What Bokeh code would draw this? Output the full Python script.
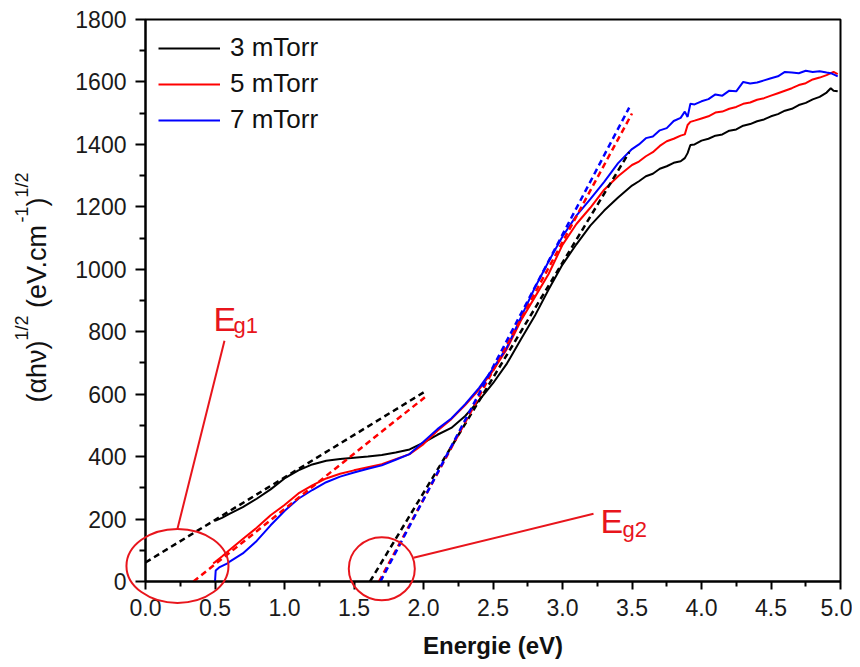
import math
from bokeh.plotting import figure
from bokeh.models import (Range1d, FixedTicker, NumeralTickFormatter, Legend,
                          LegendItem)
from bokeh.core.properties import value
from bokeh.embed import file_html
from bokeh.resources import INLINE

FONT = "Liberation Sans"
RED_NOTE = "#e8151c"

# ---------------- data ----------------
energy_head_3 = [0.50, 0.55]
alpha_head_3 = [194, 204]
energy_head_5 = [0.487, 0.50, 0.55]
alpha_head_5 = [58, 62, 80]
energy_head_7 = [0.50, 0.505, 0.53, 0.59]
alpha_head_7 = [0, 35, 45, 58]

energy_common = [0.6, 0.7, 0.8, 0.9, 1.0, 1.1, 1.2, 1.3, 1.4, 1.5, 1.6, 1.7, 1.8, 1.9,
                 2.0, 2.1, 2.2, 2.3, 2.4, 2.5, 2.6, 2.7, 2.8, 2.9, 3.0, 3.1, 3.2, 3.3,
                 3.4, 3.5, 3.55, 3.60, 3.65, 3.70, 3.75, 3.80, 3.85, 3.88, 3.90, 3.92,
                 3.95, 4.00, 4.05, 4.10, 4.15, 4.20, 4.25, 4.30, 4.35, 4.40, 4.45, 4.50,
                 4.55, 4.60, 4.65, 4.70, 4.75, 4.80, 4.85, 4.90, 4.93, 4.95, 4.98]

alpha_3mTorr = [216, 238, 265, 295, 330, 356, 375, 387, 392, 396, 400, 405, 413, 423,
                445, 470, 492, 530, 580, 635, 698, 775, 850, 935, 1015, 1080, 1140, 1188,
                1230, 1268, 1282, 1298, 1306, 1322, 1330, 1341, 1346, 1356, 1372, 1398,
                1400, 1412, 1418, 1428, 1432, 1444, 1448, 1460, 1465, 1474, 1480, 1490,
                1497, 1508, 1514, 1526, 1533, 1544, 1552, 1566, 1580, 1572, 1570]

alpha_5mTorr = [99, 136, 172, 212, 245, 282, 308, 330, 345, 356, 366, 376, 392, 408,
                440, 483, 520, 565, 615, 675, 745, 835, 910, 985, 1078, 1145, 1197, 1255,
                1298, 1334, 1345, 1362, 1375, 1395, 1410, 1418, 1428, 1432, 1462, 1472,
                1476, 1483, 1490, 1502, 1505, 1514, 1520, 1530, 1534, 1543, 1548, 1556,
                1564, 1572, 1580, 1590, 1596, 1608, 1614, 1622, 1628, 1632, 1625]

alpha_7mTorr = [62, 90, 130, 180, 226, 265, 293, 318, 336, 349, 361, 372, 390, 408,
                448, 488, 522, 568, 620, 682, 750, 845, 940, 1025, 1105, 1172, 1225, 1280,
                1340, 1385, 1400, 1420, 1425, 1445, 1452, 1475, 1485, 1505, 1488, 1530,
                1528, 1538, 1545, 1560, 1556, 1572, 1570, 1600, 1595, 1598, 1605, 1612,
                1618, 1632, 1630, 1628, 1636, 1632, 1634, 1630, 1628, 1624, 1618]

series_labels = ["3 mTorr", "5 mTorr", "7 mTorr"]
series_colors = ["#000000", "#ff0000", "#0000ff"]

# linear fits (tangent lines), endpoints
fit_low_3_x = [0.0, 2.01]
fit_low_3_y = [61, 608]
fit_low_5_x = [0.345, 2.01]
fit_low_5_y = [0, 590]
fit_high_3_x = [1.615, 3.48]
fit_high_3_y = [0, 1375]
fit_high_5_x = [1.68, 3.50]
fit_high_5_y = [0, 1499]
fit_high_7_x = [1.69, 3.48]
fit_high_7_y = [0, 1518]

x_ticks = [0.0, 0.5, 1.0, 1.5, 2.0, 2.5, 3.0, 3.5, 4.0, 4.5, 5.0]
x_minor = [0.25, 0.75, 1.25, 1.75, 2.25, 2.75, 3.25, 3.75, 4.25, 4.75]
y_ticks = [0, 200, 400, 600, 800, 1000, 1200, 1400, 1600, 1800]
y_minor = [100, 300, 500, 700, 900, 1100, 1300, 1500, 1700]

# annotation shapes (data units)
eg1_ellipse = dict(x=0.23, y=50, w=0.734, h=237)
eg2_ellipse = dict(x=1.70, y=41, w=0.475, h=202)
eg1_pointer_x = [0.568, 0.23]
eg1_pointer_y = [771, 169]
eg2_pointer_x = [1.928, 3.223]
eg2_pointer_y = [76, 217]

# y-axis title pieces: text, start along axis (data y), baseline (data x), size
ytitle_text = ["(\u03b1h\u03bd)", "1/2", "(eV.cm", "-1", ")", "1/2"]
ytitle_y = [573, 772, 876, 1150, 1201, 1230]
ytitle_x = [-0.777, -0.892, -0.777, -0.892, -0.777, -0.892]
ytitle_size = ["27px", "18px", "27px", "18px", "27px", "18px"]

# ---------------- figure ----------------
p = figure(width=852, height=665, output_backend="svg", toolbar_location=None,
           x_range=Range1d(0, 5), y_range=Range1d(0, 1800),
           min_border_left=145, min_border_right=12, min_border_top=19,
           min_border_bottom=84)
p.grid.visible = False
p.outline_line_color = "#000000"
p.outline_line_width = 2
p.background_fill_color = "white"
p.border_fill_color = "white"

for ax in (p.xaxis[0], p.yaxis[0]):
    ax.axis_line_width = 2
    ax.major_tick_line_width = 2
    ax.minor_tick_line_width = 2
    ax.major_tick_in = 0
    ax.minor_tick_in = 0
    ax.major_label_text_font = FONT
    ax.major_label_text_font_size = "23px"
    ax.major_label_text_color = "#1a1a1a"

p.xaxis.ticker = FixedTicker(ticks=x_ticks, minor_ticks=x_minor)
p.xaxis.formatter = NumeralTickFormatter(format="0.0")
p.xaxis.major_tick_out = 8
p.xaxis.minor_tick_out = 5
p.xaxis.major_label_standoff = 9
p.xaxis.axis_label = "Energie (eV)"
p.xaxis.axis_label_text_font = FONT
p.xaxis.axis_label_text_font_style = "bold"
p.xaxis.axis_label_text_font_size = "24px"
p.xaxis.axis_label_text_color = "#111111"
p.xaxis.axis_label_standoff = 13

p.yaxis.ticker = FixedTicker(ticks=y_ticks, minor_ticks=y_minor)
p.yaxis.major_tick_out = 10
p.yaxis.minor_tick_out = 6
p.yaxis.major_label_standoff = 9

# curves
energies = [energy_head_3 + energy_common, energy_head_5 + energy_common,
            energy_head_7 + energy_common]
values = [alpha_head_3 + alpha_3mTorr, alpha_head_5 + alpha_5mTorr,
          alpha_head_7 + alpha_7mTorr]
renderers = []
for e, v, c in zip(energies, values, series_colors):
    renderers.append(p.line(e, v, line_color=c, line_width=2))

# dashed tangents
p.line(fit_low_3_x, fit_low_3_y, line_color="#000000", line_width=2.5, line_dash="6 4")
p.line(fit_low_5_x, fit_low_5_y, line_color="#ff0000", line_width=2.5, line_dash="6 4")
p.line(fit_high_3_x, fit_high_3_y, line_color="#000000", line_width=2.5, line_dash="6 4")
p.line(fit_high_5_x, fit_high_5_y, line_color="#ff0000", line_width=2.5, line_dash="6 4")
p.line(fit_high_7_x, fit_high_7_y, line_color="#0000ff", line_width=2.5, line_dash="6 4")

# annotations: ellipses and pointer lines (not clipped to the frame)
p.ellipse(x=[eg1_ellipse["x"]], y=[eg1_ellipse["y"]], width=[eg1_ellipse["w"]],
          height=[eg1_ellipse["h"]], fill_alpha=0, line_color=RED_NOTE, line_width=2,
          level="annotation")
p.ellipse(x=[eg2_ellipse["x"]], y=[eg2_ellipse["y"]], width=[eg2_ellipse["w"]],
          height=[eg2_ellipse["h"]], fill_alpha=0, line_color=RED_NOTE, line_width=2,
          level="annotation")
p.line(eg1_pointer_x, eg1_pointer_y, line_color=RED_NOTE, line_width=2)
p.line(eg2_pointer_x, eg2_pointer_y, line_color=RED_NOTE, line_width=2)

# E_g labels
p.text(x=[0.489, 3.273], y=[842, 194], text=["E", "E"], text_font=value(FONT),
       text_font_size="34px", text_color=RED_NOTE, text_baseline="alphabetic",
       text_align="left")
p.text(x=[0.633, 3.432], y=[819, 168], text=["g1", "g2"], text_font=value(FONT),
       text_font_size="22px", text_color=RED_NOTE, text_baseline="alphabetic",
       text_align="left")

# y axis title (rotated, with superscripts), drawn outside the frame
for t, yy, xx, sz in zip(ytitle_text, ytitle_y, ytitle_x, ytitle_size):
    p.text(x=[xx], y=[yy], text=[t], text_font=value(FONT), text_font_size=sz,
           text_color="#111111", angle=math.pi / 2, text_align="left",
           text_baseline="alphabetic", level="annotation")

legend = Legend(items=[LegendItem(label=l, renderers=[r]) for l, r in zip(series_labels, renderers)],
                location="top_left", border_line_alpha=0, background_fill_alpha=0,
                label_text_font=FONT, label_text_font_size="26px",
                label_text_color="#111111", glyph_width=62, glyph_height=24,
                label_height=24, spacing=5, padding=13, margin=0, label_standoff=10)
p.add_layout(legend)

open("out.html", "w").write(file_html(p, INLINE))
